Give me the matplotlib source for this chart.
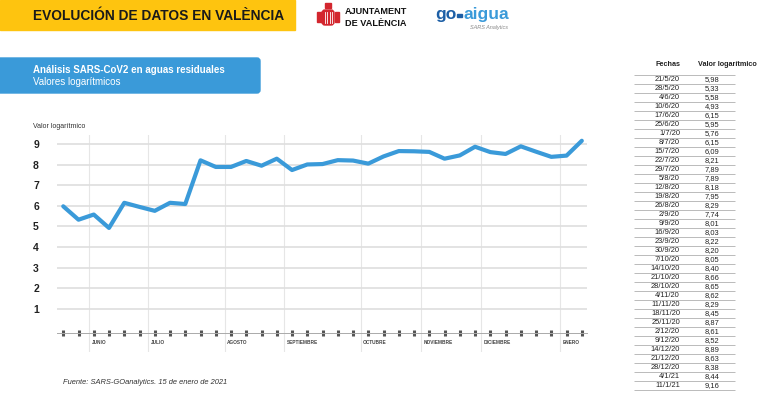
import numpy as np
import matplotlib.pyplot as plt
from matplotlib.patches import Rectangle, FancyBboxPatch

plt.rcParams['font.family'] = ['Liberation Sans', 'DejaVu Sans']

# datos de la tabla (valor logarítmico por fecha)
fechas = ['21/5/20', '28/5/20', '4/6/20', '10/6/20', '17/6/20', '25/6/20', '1/7/20',
          '8/7/20', '15/7/20', '22/7/20', '29/7/20', '5/8/20', '12/8/20', '19/8/20',
          '26/8/20', '2/9/20', '9/9/20', '16/9/20', '23/9/20', '30/9/20', '7/10/20',
          '14/10/20', '21/10/20', '28/10/20', '4/11/20', '11/11/20', '18/11/20',
          '25/11/20', '2/12/20', '9/12/20', '14/12/20', '21/12/20', '28/12/20',
          '4/1/21', '11/1/21']
valores = [5.98, 5.33, 5.58, 4.93, 6.15, 5.95, 5.76, 6.15, 6.09, 8.21, 7.89, 7.89,
           8.18, 7.95, 8.29, 7.74, 8.01, 8.03, 8.22, 8.20, 8.05, 8.40, 8.66, 8.65,
           8.62, 8.29, 8.45, 8.87, 8.61, 8.52, 8.89, 8.63, 8.38, 8.44, 9.16]

meses = ['JUNIO', 'JULIO', 'AGOSTO', 'SEPTIEMBRE', 'OCTUBRE', 'NOVIEMBRE', 'DICIEMBRE', 'ENERO']
inicio_mes = [1.7, 5.57, 10.6, 14.5, 19.5, 23.45, 27.4, 32.6]

W, H = 770, 393
AZUL = '#3a9ad9'

fig = plt.figure(figsize=(W / 100, H / 100), dpi=100)

# capa de fondo en píxeles para cabecera, tabla y textos
bg = fig.add_axes([0, 0, 1, 1])
bg.set_xlim(0, W)
bg.set_ylim(H, 0)
bg.axis('off')

# cabecera amarilla
bg.add_patch(Rectangle((0, 0), 295, 30, color='#fec40f'))
bg.text(33, 15.5, 'EVOLUCIÓN DE DATOS EN VALÈNCIA', fontsize=9.9, fontweight='bold',
        color='#1a1a1a', va='center')

# escudo (aprox.)
rojo = '#d3262e'
bg.add_patch(Rectangle((325, 3), 6, 5, color=rojo))
bg.add_patch(FancyBboxPatch((322, 10), 12, 15, boxstyle='round,pad=0,rounding_size=3', color=rojo))
for xx in [324.5, 327, 329.5, 332]:
    bg.plot([xx, xx], [12, 23], color='white', lw=0.6)
bg.add_patch(Rectangle((317, 12), 4, 10, color=rojo))
bg.add_patch(Rectangle((335, 12), 4, 10, color=rojo))
bg.text(345, 12, 'AJUNTAMENT', fontsize=6.6, fontweight='bold', color='#111', va='center')
bg.text(345, 23, 'DE VALÈNCIA', fontsize=6.6, fontweight='bold', color='#111', va='center')

# logo go-aigua
bg.text(435, 14, 'go', fontsize=12.5, fontweight='bold', color='#1d5fa6', va='center')
bg.add_patch(Rectangle((456.5, 14), 5, 2.6, color='#1d5fa6'))
bg.text(463, 14, 'aigua', fontsize=12.5, fontweight='bold', color='#3a9ad9', va='center')
bg.text(508, 27.5, 'SARS Analytics', fontsize=4, style='italic', color='#888', va='center', ha='right')

# caja azul
bg.add_patch(FancyBboxPatch((-10, 58), 270, 35, boxstyle='round,pad=0,rounding_size=3',
                            color=AZUL))
bg.text(33, 70, 'Análisis SARS-CoV2 en aguas residuales', fontsize=7, fontweight='bold',
        color='white', va='center')
bg.text(33, 82, 'Valores logarítmicos', fontsize=7, color='white', va='center')

bg.text(33, 127, 'Valor logarítmico', fontsize=5, color='#333', va='center')
bg.text(63, 383, 'Fuente: SARS-GOanalytics. 15 de enero de 2021', fontsize=5.4,
        style='italic', color='#333', va='center')

# tabla
bg.text(668, 65, 'Fechas', fontsize=5.2, fontweight='bold', color='#222', va='center', ha='center')
bg.text(727, 65, 'Valor logarítmico', fontsize=5.2, fontweight='bold', color='#222',
        va='center', ha='center')
bg.hlines(75 + 9 * np.arange(len(fechas) + 1), 634, 735, color='#b0b0b0', lw=0.6)
for i, (f, v) in enumerate(zip(fechas, valores)):
    y = 79.5 + 9 * i
    bg.text(680, y, f, fontsize=5.4, color='#222', va='center', ha='right')
    bg.text(712, y, f'{v:.2f}'.replace('.', ','), fontsize=5.4, color='#222',
            va='center', ha='center')

# gráfico
ax = fig.add_axes([57 / W, 1 - 352 / H, 530 / W, 217 / H])
x = np.arange(len(valores))
ax.plot(x, valores, color=AZUL, lw=3.0, solid_capstyle='round', solid_joinstyle='round', zorder=3)
ax.set_xlim(-0.41, 34.34)
ax.set_ylim(-1.09, 9.44)
for s in ['top', 'right', 'left']:
    ax.spines[s].set_visible(False)
ax.spines['bottom'].set_position(('data', -0.15))
ax.spines['bottom'].set_color('#aaaaaa')
ax.spines['bottom'].set_linewidth(0.7)
ax.set_xticks(x)
ax.tick_params(axis='x', direction='inout', length=3.8, width=2.2, color='#555555',
               labelbottom=False)
ax.set_yticks(range(1, 10))
ax.tick_params(axis='y', length=0, pad=13, labelsize=7.5, labelcolor='#222')
for lab in ax.get_yticklabels():
    lab.set_fontweight('bold')
ax.yaxis.grid(True, color='#dedede', lw=1.2)
ax.set_axisbelow(True)
ax.patch.set_alpha(0)
for p, m in zip(inicio_mes, meses):
    ax.axvline(p, color='#e6e6e6', lw=0.8, zorder=0)
    ax.text(p + 0.15, -0.65, m, fontsize=3.4, fontweight='bold', color='#444',
            va='center', ha='left')

plt.savefig('out.png', dpi=100)
